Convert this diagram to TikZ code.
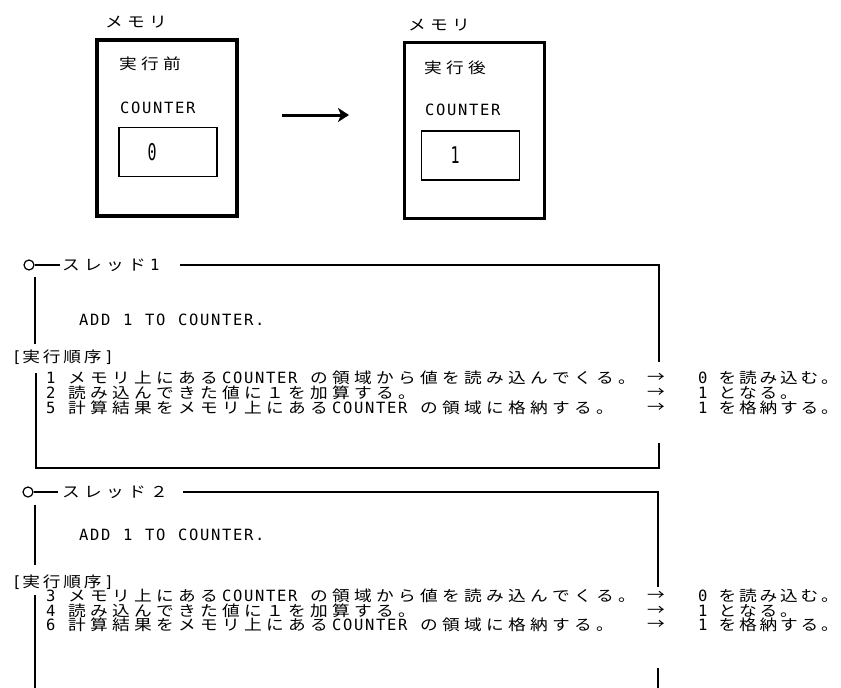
\documentclass[tikz,border=0pt]{standalone}
\usepackage{fontspec}
\usetikzlibrary{arrows.meta}
\newfontfamily\jpfont[FakeStretch=1.18]{Noto Sans CJK JP}
\newfontfamily\mnfont{DejaVu Sans Mono}
\newdimen\fw \fw=22pt
\newcommand\mono[1]{\mbox{\monoloop#1\relax}}
\def\monoloop#1{\ifx\relax#1\else\monochar{#1}\expandafter\monoloop\fi}
\def\monochar#1{\ifnum`#1>255 \makebox[\fw][l]{\jpfont\fontsize{15}{15}\selectfont #1}\else\makebox[0.5\fw][l]{\mnfont\fontsize{15.5}{15.5}\selectfont #1}\fi}
\newcommand\bignum[1]{\scalebox{0.65}[1]{\mnfont\fontsize{23}{23}\selectfont #1}}
\begin{document}
\begin{tikzpicture}[x=1pt,y=-1pt,
  txt/.style={inner sep=0pt, anchor=west, font=\fontsize{15}{15}\selectfont},
  frame/.style={line width=1.3pt},
  membox/.style={draw, line width=3.5pt, minimum width=140pt, minimum height=176pt, inner sep=0pt},
  valbox/.style={draw, line width=1.3pt, minimum width=98pt, minimum height=49pt, inner sep=0pt},
  dot/.style={draw, circle, line width=1.2pt, minimum size=10pt, inner sep=0pt},
  bigarrow/.style={line width=3pt, -{Stealth[length=11pt,width=14pt,inset=3pt]}}]
\useasboundingbox (0,0) rectangle (841,688);

% ---- memory boxes ----
\node[membox] (m1) at (167,128) {};
\node[membox] (m2) at (474.5,130.5) {};
\node[valbox] (v1) at (168,152) {};
\node[valbox] (v2) at (470.5,155.5) {};
\node[inner sep=0pt] (n1) at (152,152) {\bignum{0}};
\node[inner sep=0pt] (n2) at (455,155) {\bignum{1}};
\node[txt] (l1) at (105,22) {\mono{メモリ}};
\node[txt] (l2) at (408,25) {\mono{メモリ}};
\node[txt] (h1) at (119,64) {\mono{実行前}};
\node[txt] (h2) at (424,68) {\mono{実行後}};
\node[txt] (k1) at (120,108) {\mono{COUNTER}};
\node[txt] (k2) at (425,110) {\mono{COUNTER}};
\coordinate (a1) at (282,115);
\coordinate (a2) at (349,115);
\draw[bigarrow] (a1) -- (a2);

% ---- thread 1 ----
\node[dot] (c1) at (29,265) {};
\coordinate (d1) at (60,265);
\draw[frame] (c1) -- (d1);
\node[txt] (t1) at (62,265) {\mono{スレッド1}};
\coordinate (tl1) at (180,265);
\coordinate (tr1) at (659,265);
\coordinate (rm1) at (659,362);
\coordinate (rb1) at (659,443);
\coordinate (br1) at (659,468);
\coordinate (bl1) at (36,468);
\coordinate (lb1) at (36,373);
\coordinate (lv1) at (35,277);
\coordinate (lt1) at (35,344);
\draw[frame] (tl1) -- (tr1) -- (rm1);
\draw[frame] (rb1) -- (br1) -- (bl1) -- (lb1);
\draw[frame] (lv1) -- (lt1);
\node[txt] (add1) at (79,320) {\mono{ADD~1~TO~COUNTER.}};
\node[txt] (ord1) at (12,357) {\fw=20.5pt\mono{[実行順序]}};
\node[txt] (r11) at (46,378) {\mono{1~メモリ上にあるCOUNTER~の領域から値を読み込んでくる。}};
\node[txt] (r12) at (46,393) {\mono{2~読み込んできた値に１を加算する。}};
\node[txt] (r13) at (46,407.5) {\mono{5~計算結果をメモリ上にあるCOUNTER~の領域に格納する。}};
\node[txt] (p11) at (647,378) {\mono{→}};
\node[txt] (p12) at (647,393) {\mono{→}};
\node[txt] (p13) at (647,407.5) {\mono{→}};
\node[txt] (s11) at (698,378) {\fw=20.5pt\mono{0~を読み込む。}};
\node[txt] (s12) at (698,393) {\fw=20.5pt\mono{1~となる。}};
\node[txt] (s13) at (698,407.5) {\fw=20.5pt\mono{1~を格納する。}};

% ---- thread 2 ----
\node[dot] (c2) at (28,492) {};
\coordinate (d2) at (58,492);
\draw[frame] (c2) -- (d2);
\node[txt] (t2) at (62,492) {\mono{スレッド２}};
\coordinate (tl2) at (183,492);
\coordinate (tr2) at (658,492);
\coordinate (rm2) at (658,587);
\coordinate (rb2) at (658,668);
\coordinate (br2) at (658,688);
\coordinate (lv2) at (35,505);
\coordinate (lt2) at (35,565);
\coordinate (lb2) at (35,595);
\coordinate (bl2) at (35,688);
\draw[frame] (tl2) -- (tr2) -- (rm2);
\draw[frame] (rb2) -- (br2);
\draw[frame] (lv2) -- (lt2);
\draw[frame] (lb2) -- (bl2);
\node[txt] (add2) at (79,535) {\mono{ADD~1~TO~COUNTER.}};
\node[txt] (ord2) at (12,582) {\fw=20.5pt\mono{[実行順序]}};
\node[txt] (r21) at (46,596) {\mono{3~メモリ上にあるCOUNTER~の領域から値を読み込んでくる。}};
\node[txt] (r22) at (46,610.5) {\mono{4~読み込んできた値に１を加算する。}};
\node[txt] (r23) at (46,625) {\mono{6~計算結果をメモリ上にあるCOUNTER~の領域に格納する。}};
\node[txt] (p21) at (647,596) {\mono{→}};
\node[txt] (p22) at (647,610.5) {\mono{→}};
\node[txt] (p23) at (647,625) {\mono{→}};
\node[txt] (s21) at (698,596) {\fw=20.5pt\mono{0~を読み込む。}};
\node[txt] (s22) at (698,610.5) {\fw=20.5pt\mono{1~となる。}};
\node[txt] (s23) at (698,625) {\fw=20.5pt\mono{1~を格納する。}};
\end{tikzpicture}
\end{document}
